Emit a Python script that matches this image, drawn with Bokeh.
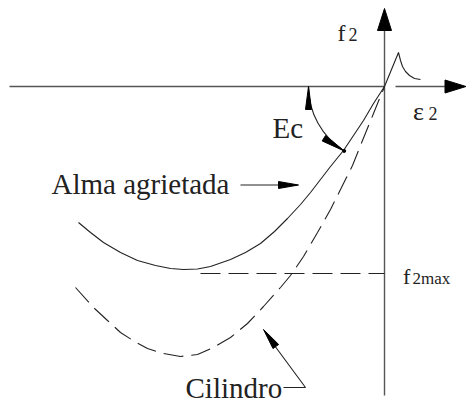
import numpy as np
from bokeh.plotting import figure
from bokeh.models import Range1d
from bokeh.core.properties import value
from bokeh.embed import file_html
from bokeh.resources import INLINE

# Compression branch for the cracked web (strain eps2, stress f2, arbitrary units)
alma_eps = [-3.06, -2.94, -2.81, -2.64, -2.47, -2.29, -2.14, -2.01, -1.87, -1.74, -1.54, -1.39,
            -1.24, -1.10, -0.97, -0.84, -0.74, -0.64, -0.54, -0.41, -0.31, -0.21, -0.11, 0.0]
alma_f = [-1.36, -1.46, -1.56, -1.66, -1.74, -1.79, -1.82, -1.83, -1.825, -1.80, -1.73, -1.66,
          -1.57, -1.45, -1.32, -1.18, -1.06, -0.93, -0.80, -0.64, -0.49, -0.34, -0.17, 0.0]

# Compression branch for the standard cylinder
cil_eps = [-3.09, -2.91, -2.77, -2.64, -2.50, -2.37, -2.21, -2.04, -1.87, -1.71, -1.54, -1.37,
           -1.21, -1.04, -0.94, -0.81, -0.67, -0.54, -0.43, -0.32, -0.22, -0.11, 0.0]
cil_f = [-2.01, -2.21, -2.34, -2.46, -2.55, -2.62, -2.67, -2.70, -2.68, -2.61, -2.51, -2.37,
         -2.20, -2.01, -1.89, -1.70, -1.46, -1.23, -1.01, -0.79, -0.54, -0.27, 0.0]

# Tension branch (rise to cracking, then softening)
ten_eps = [0.0, 0.14, 0.16, 0.18, 0.21, 0.25, 0.30, 0.36]
ten_f = [0.0, 0.34, 0.26, 0.20, 0.15, 0.11, 0.08, 0.07]

# Peak stress of the cracked web and where its reference line starts
f2max = -1.87
f2max_start = -1.84

# Initial tangent (Ec) arc: radius and sweep in degrees
ec_radius = 0.76
ec_angles = [180.0, 238.0]

# Label texts
lbl_alma = "Alma agrietada"
lbl_cil = "Cilindro"
lbl_ec = "Ec"
lbl_f = "f"
lbl_two = "2"
lbl_max = "2max"
lbl_eps = "ε"

SERIF = value("Liberation Serif")
INK = "#222222"
AXIS = "#555555"

p = figure(width=466, height=404, x_range=Range1d(-3.84, 0.82), y_range=Range1d(-3.18, 0.86),
           output_backend="svg", toolbar_location=None, min_border=0,
           x_axis_location=None, y_axis_location=None)
p.grid.visible = False
p.outline_line_color = None
p.background_fill_color = "white"
p.border_fill_color = "white"


def head(tip, direction, length, half):
    """Triangle arrowhead with its point at tip, aimed along direction."""
    d = np.asarray(direction, dtype=float)
    d = d / np.hypot(*d)
    n = np.array([-d[1], d[0]])
    t = np.asarray(tip, dtype=float)
    b = t - d * length
    pts = [t, b + n * half, b - n * half]
    return [q[0] for q in pts], [q[1] for q in pts]


# Coordinate axes
p.line([-3.75, 0.0], [0.0, 0.0], line_color=AXIS, line_width=1.4)
p.line([0.11, 0.62], [0.0, 0.0], line_color=AXIS, line_width=1.4)
p.line([0.0, 0.0], [-3.09, 0.57], line_color=AXIS, line_width=1.4)
hx, hy = head((0.815, 0.0), (1, 0), 0.21, 0.065)
p.patch(hx, hy, fill_color="black", line_color="black", line_width=1)
vx, vy = head((0.0, 0.78), (0, 1), 0.22, 0.07)
p.patch(vx, vy, fill_color="black", line_color="black", line_width=1)

# Stress-strain curves
p.line(alma_eps, alma_f, line_color=INK, line_width=1.1)
p.line(ten_eps, ten_f, line_color=INK, line_width=1.1)
p.line(cil_eps, cil_f, line_color=INK, line_width=1.1, line_dash="20 8")
p.line([f2max_start, 0.0], [f2max, f2max], line_color=INK, line_width=1.1, line_dash="20 8")

# Ec arc with arrowheads on both ends
a0, a1 = np.radians(ec_angles)
p.arc(x=0, y=0, radius=ec_radius, start_angle=a0, end_angle=a1,
      line_color=INK, line_width=1.1)
tx, ty = head((ec_radius * np.cos(a0), ec_radius * np.sin(a0)),
              (np.sin(a0), -np.cos(a0)), 0.23, 0.03)
p.patch(tx, ty, fill_color="black", line_color="black")
bx, by = head((ec_radius * np.cos(a1), ec_radius * np.sin(a1)),
              (-np.sin(a1), np.cos(a1)), 0.24, 0.032)
p.patch(bx, by, fill_color="black", line_color="black")
p.scatter([ec_radius * np.cos(a1)], [ec_radius * np.sin(a1)], size=3, color="black")

# Leader for the cracked-web curve
p.line([-1.44, -0.88], [-0.985, -0.985], line_color=INK, line_width=1.1)
ax_, ay_ = head((-0.86, -0.985), (1, 0), 0.20, 0.035)
p.patch(ax_, ay_, fill_color="black", line_color="black")

# Leader for the cylinder curve
p.line([-1.01, -0.79, -1.10], [-3.01, -3.01, -2.59], line_color=INK, line_width=1.1)
cx, cy = head((-1.21, -2.43), (-0.42, 0.58), 0.21, 0.035)
p.patch(cx, cy, fill_color="black", line_color="black")


# Labels (y is the baseline; raised to compensate for the SVG text anchor)
def label(x, y, txt, size):
    p.text(x=[x], y=[y + 0.0031 * size], text=[txt], text_font=SERIF,
           text_font_size=f"{size}px", text_color=INK, text_align="left",
           text_baseline="alphabetic")


label(-3.33, -1.06, lbl_alma, 29)
label(-1.99, -3.10, lbl_cil, 29)
label(-1.12, -0.50, lbl_ec, 29)
label(-0.47, 0.46, lbl_f, 24)
label(-0.36, 0.46, lbl_two, 18)
label(0.285, -0.33, lbl_eps, 26)
label(0.44, -0.33, lbl_two, 18)
label(0.185, -1.97, lbl_f, 22)
label(0.28, -1.97, lbl_max, 17)

open("out.html", "w").write(file_html(p, INLINE))
